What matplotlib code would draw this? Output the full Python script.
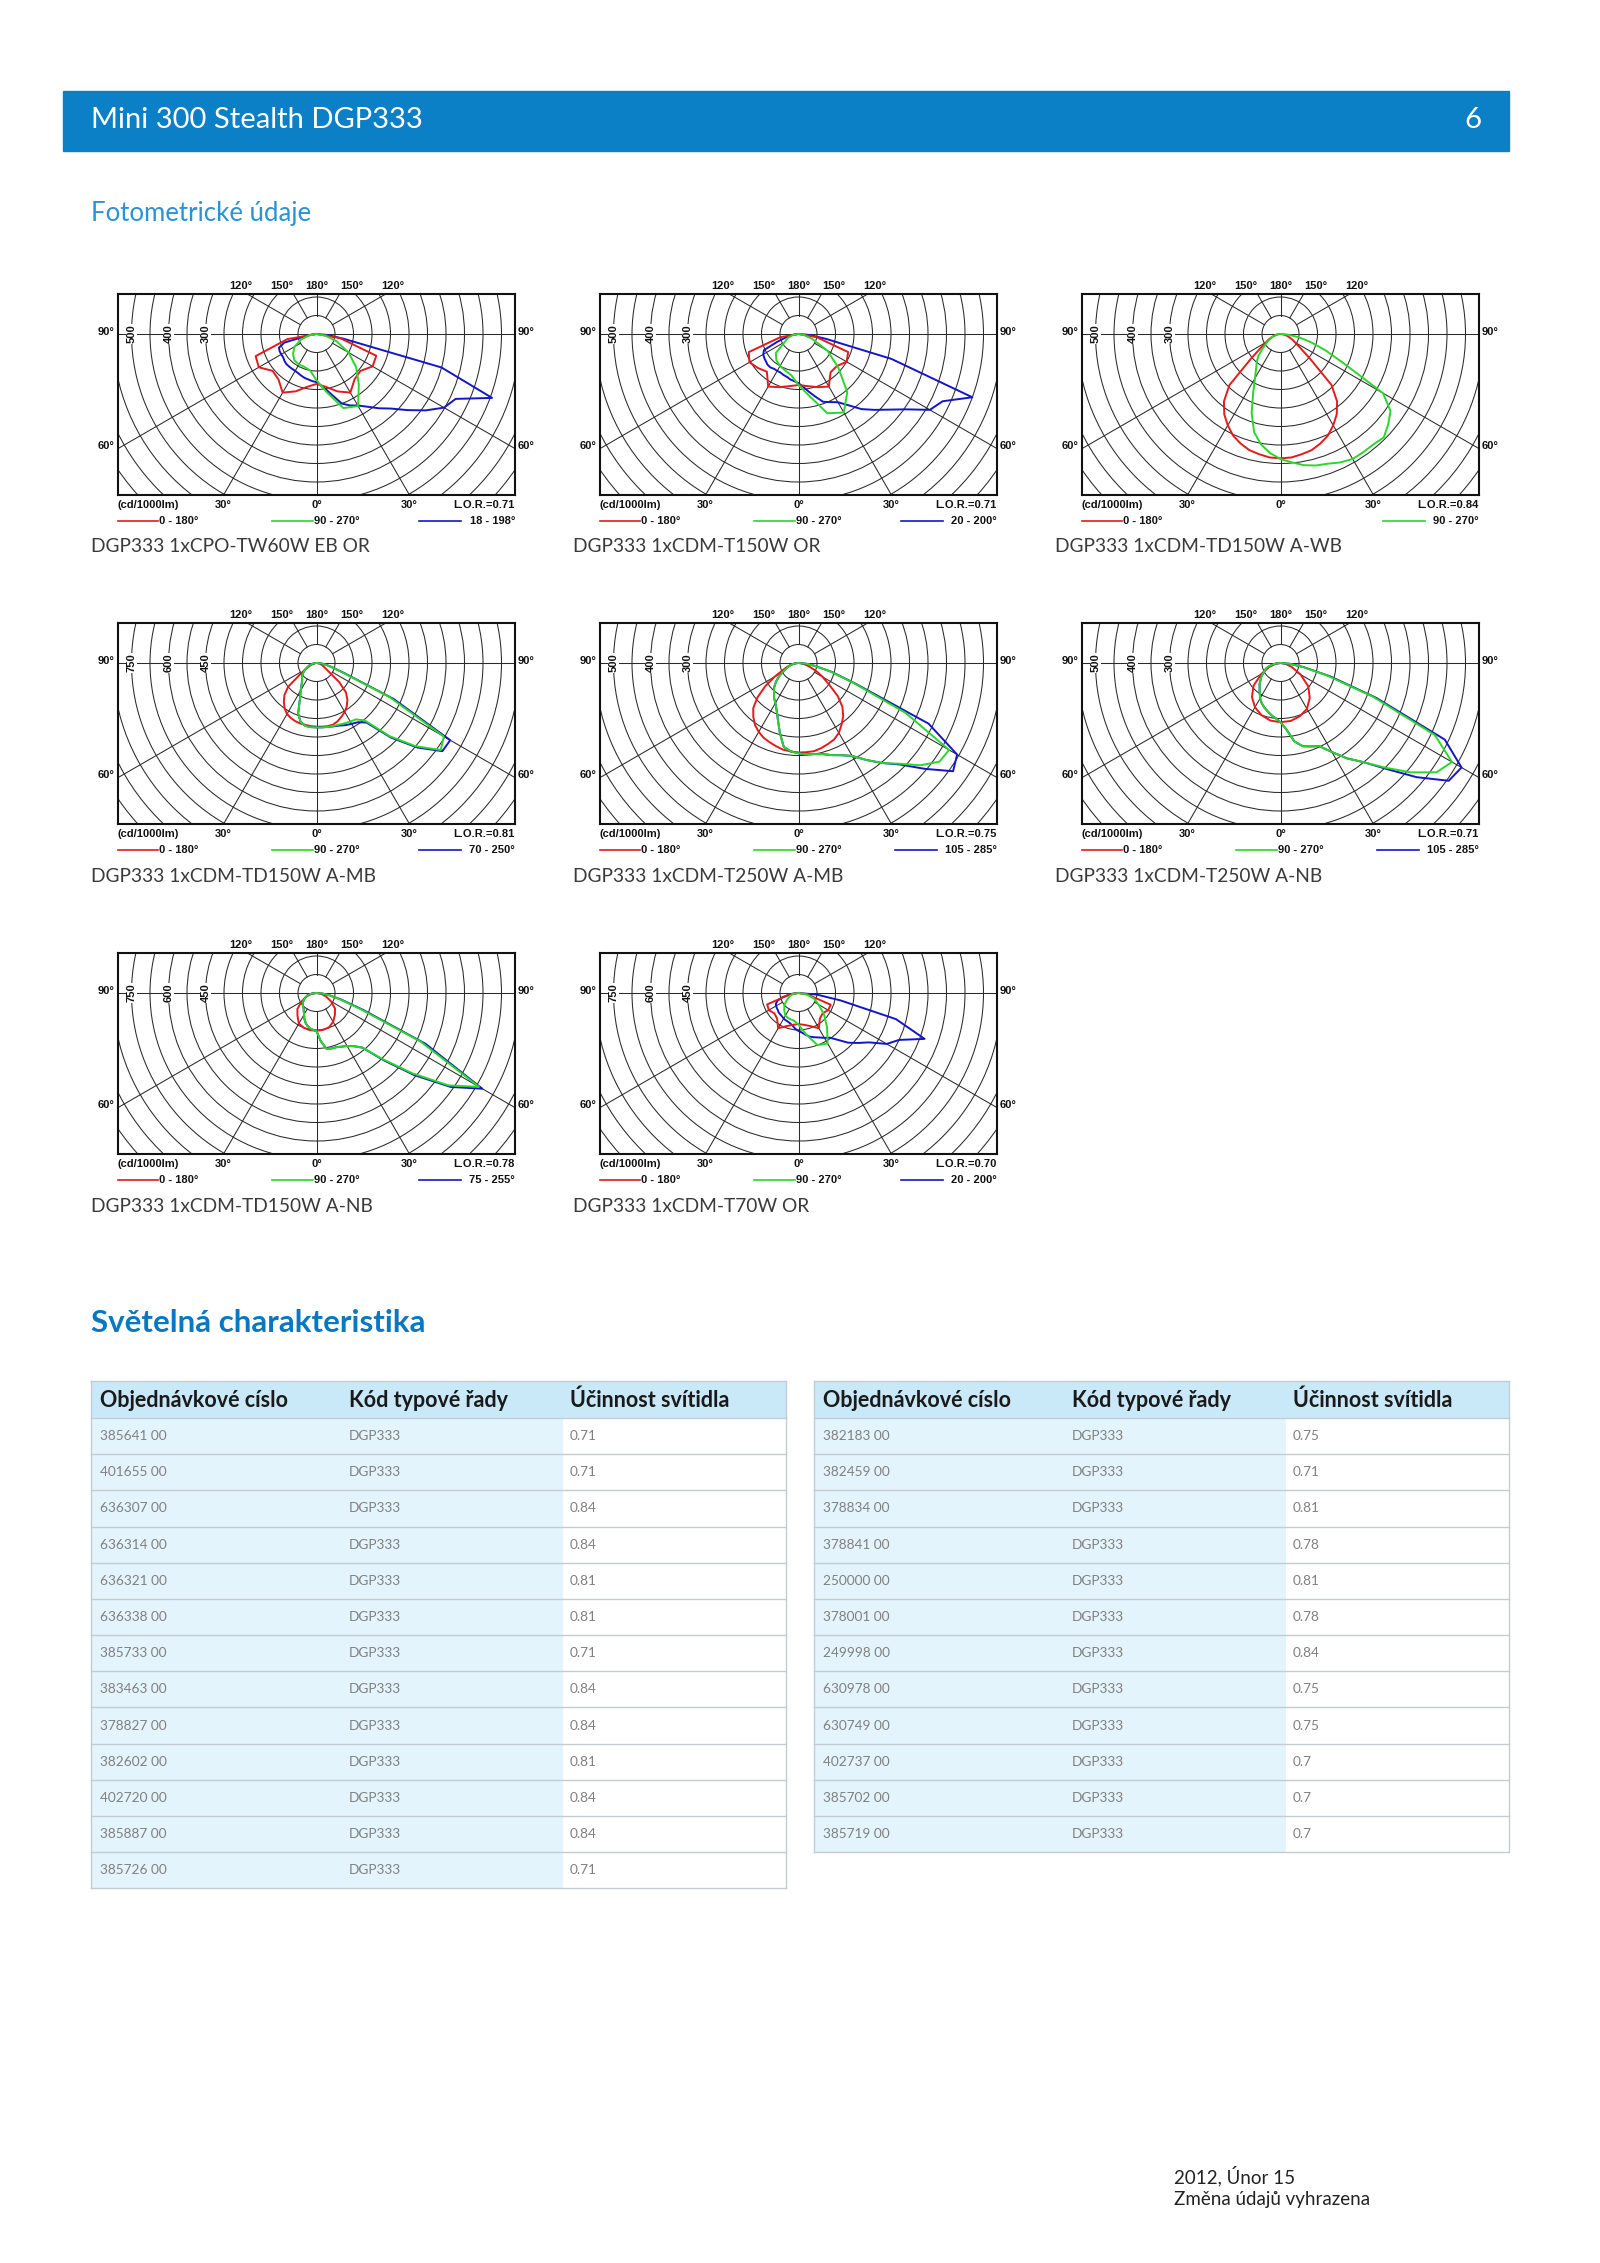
import numpy as np
import matplotlib.pyplot as plt
from matplotlib.patches import Circle, Rectangle

plt.rcParams['font.family'] = ['Lato', 'DejaVu Sans']

# gamma angles (0 = straight down, negative = left half of the C-plane)
A10 = np.arange(-90, 91, 10)
A5 = np.arange(-90, 91, 5)

# intensities in cd/1000lm
c1_red = [0, 80, 175, 180, 155, 160, 183, 165, 145, 135, 145, 165, 183, 160, 155, 175, 172, 65, 0]
c1_green = [0, 20, 45, 68, 83, 93, 95, 95, 100, 125, 160, 213, 225, 178, 140, 100, 58, 25, 0]
c1_blue = [0, 10, 25, 90, 108, 110, 110, 110, 113, 115, 115, 115, 115, 117, 120, 123, 125, 128, 130,
           140, 153, 173, 200, 213, 223, 240, 262, 285, 320, 360, 398, 415, 505, 350, 75, 30, 0]

c2_red = [0, 50, 143, 153, 143, 133, 164, 153, 143, 138, 143, 153, 164, 135, 135, 150, 143, 50, 0]
c2_green = [0, 15, 30, 43, 80, 93, 100, 105, 113, 138, 170, 228, 245, 205, 140, 90, 40, 15, 0]
c2_blue = [0, 8, 20, 35, 60, 103, 110, 113, 115, 118, 118, 115, 115, 115, 118, 120, 125, 128, 133,
           143, 158, 175, 195, 203, 213, 235, 265, 290, 318, 355, 410, 430, 500, 260, 75, 30, 0]

c3_red = [0, 5, 10, 18, 25, 35, 45, 65, 105, 195, 238, 265, 285, 303, 315, 325, 330, 335, 336,
          335, 330, 325, 315, 303, 285, 265, 238, 195, 105, 65, 45, 35, 25, 18, 10, 5, 0]
c3_green = [0, 5, 10, 15, 23, 30, 40, 50, 65, 85, 100, 115, 138, 175, 228, 275, 303, 323, 338,
            348, 360, 368, 373, 383, 390, 390, 390, 395, 380, 363, 320, 190, 130, 85, 50, 20, 0]

c4_red = [0, 4, 8, 15, 23, 34, 53, 83, 150, 184, 206, 225, 239, 246, 251, 254, 255, 257, 258,
          259, 260, 259, 251, 240, 229, 214, 195, 169, 120, 60, 41, 30, 23, 15, 8, 4, 0]
c4_green = [0, 8, 15, 23, 34, 41, 53, 64, 75, 83, 90, 105, 128, 158, 218, 248, 259, 261, 261,
            262, 263, 264, 266, 270, 274, 279, 304, 420, 525, 615, 596, 326, 113, 60, 38, 19, 0]
c4_blue = [0, 8, 15, 23, 34, 41, 53, 64, 75, 83, 90, 105, 128, 158, 218, 248, 259, 261, 261,
           262, 263, 266, 270, 278, 285, 293, 315, 428, 533, 623, 626, 345, 120, 64, 38, 19, 0]

c5_red = [0, 5, 13, 23, 35, 48, 75, 110, 145, 173, 190, 205, 215, 223, 228, 233, 238, 240, 242,
          242, 242, 238, 233, 228, 218, 203, 188, 168, 138, 100, 75, 55, 35, 23, 13, 5, 0]
c5_green = [0, 8, 15, 23, 30, 38, 50, 65, 80, 93, 103, 115, 125, 140, 163, 195, 230, 240, 244,
            248, 250, 255, 265, 275, 290, 320, 353, 385, 430, 465, 470, 320, 160, 90, 45, 20, 0]
c5_blue = [0, 8, 15, 23, 30, 38, 50, 65, 80, 93, 103, 115, 125, 140, 163, 195, 230, 240, 244,
           248, 250, 255, 265, 275, 290, 320, 353, 388, 445, 510, 495, 388, 165, 93, 45, 20, 0]

c6_red = [0, 15, 33, 60, 95, 120, 138, 150, 158, 160, 159, 153, 143, 123, 98, 63, 33, 15, 0]
c6_green = [0, 10, 20, 30, 40, 48, 53, 63, 70, 80, 88, 98, 110, 120, 128, 135, 143, 150, 160,
            180, 215, 233, 240, 248, 278, 315, 350, 400, 460, 515, 535, 460, 265, 130, 60, 25, 0]
c6_blue = [0, 10, 20, 30, 40, 48, 53, 63, 70, 80, 88, 98, 110, 120, 128, 135, 143, 150, 160,
           180, 215, 233, 240, 248, 278, 315, 350, 405, 480, 555, 565, 490, 275, 138, 63, 25, 0]

c7_red = [0, 23, 45, 71, 101, 120, 143, 150, 153, 153, 152, 148, 135, 116, 98, 68, 41, 19, 0]
c7_green = [0, 15, 26, 38, 45, 53, 60, 68, 73, 77, 81, 90, 101, 116, 129, 139, 146, 150, 154,
            195, 229, 233, 234, 240, 248, 263, 289, 379, 506, 653, 761, 465, 188, 98, 53, 23, 0]
c7_blue = [0, 15, 26, 38, 45, 53, 60, 68, 73, 77, 81, 90, 101, 116, 129, 139, 146, 150, 154,
           195, 229, 233, 234, 240, 248, 263, 289, 386, 518, 664, 776, 488, 203, 105, 53, 23, 0]

c8_red = [0, 38, 135, 139, 128, 135, 165, 143, 131, 126, 131, 143, 165, 135, 128, 139, 139, 38, 0]
c8_green = [0, 23, 38, 53, 75, 90, 107, 111, 113, 128, 169, 225, 236, 180, 135, 94, 68, 34, 0]
c8_blue = [0, 19, 38, 68, 90, 101, 105, 107, 109, 113, 114, 116, 120, 122, 124, 128, 135, 146, 154,
           161, 173, 184, 191, 199, 210, 221, 248, 285, 315, 349, 413, 450, 544, 409, 173, 75, 0]

captions = ['DGP333 1xCPO-TW60W EB OR', 'DGP333 1xCDM-T150W OR', 'DGP333 1xCDM-TD150W A-WB',
            'DGP333 1xCDM-TD150W A-MB', 'DGP333 1xCDM-T250W A-MB', 'DGP333 1xCDM-T250W A-NB',
            'DGP333 1xCDM-TD150W A-NB', 'DGP333 1xCDM-T70W OR']
lor = ['0.71', '0.71', '0.84', '0.81', '0.75', '0.71', '0.78', '0.70']
blue_planes = ['18 - 198°', '20 - 200°', None, '70 - 250°', '105 - 285°', '105 - 285°',
               '75 - 255°', '20 - 200°']
ring_step = [50, 50, 50, 75, 50, 50, 75, 75]

# table data
hdr = ['Objednávkové císlo', 'Kód typové řady', 'Účinnost svítidla']
ids_left = ['385641 00', '401655 00', '636307 00', '636314 00', '636321 00', '636338 00', '385733 00',
            '383463 00', '378827 00', '382602 00', '402720 00', '385887 00', '385726 00']
eff_left = ['0.71', '0.71', '0.84', '0.84', '0.81', '0.81', '0.71', '0.84', '0.84', '0.81', '0.84',
            '0.84', '0.71']
ids_right = ['382183 00', '382459 00', '378834 00', '378841 00', '250000 00', '378001 00', '249998 00',
             '630978 00', '630749 00', '402737 00', '385702 00', '385719 00']
eff_right = ['0.75', '0.71', '0.81', '0.78', '0.81', '0.78', '0.84', '0.75', '0.75', '0.7', '0.7', '0.7']

RED, GREEN, BLUE = '#e41a1c', '#2bd62b', '#1515c8'
GRID = '#2a2a2a'
LBL = dict(family=['Liberation Sans', 'DejaVu Sans'], fontweight='bold', fontsize=8, color='#111111')

fig = plt.figure(figsize=(16, 22.63), dpi=100)
page = fig.add_axes([0, 0, 1, 1])
page.set_xlim(0, 1600)
page.set_ylim(2263, 0)
page.axis('off')

# header
page.add_patch(Rectangle((63, 91), 1446, 60, color='#0b80c7'))
page.text(91, 120, 'Mini 300 Stealth DGP333', color='white', fontsize=21, va='center')
page.text(1481, 120, '6', color='white', fontsize=21, va='center', ha='right')
page.text(91, 214, 'Fotometrické údaje', color='#2a92d6', fontsize=18.5, va='center')

PX = 18.5      # pixels per ring
W, H = 397, 201
TOP = 40       # pixels from box top to diagram centre


def polar_box(L, T, step, curves, ring_lbls, lor_txt, blue_lbl, caption):
    ax = fig.add_axes([L / 1600, 1 - (T + H) / 2263, W / 1600, H / 2263])
    ax.set_xlim(-W / 2 / PX * step, W / 2 / PX * step)
    ax.set_ylim(-(H - TOP) / PX * step, TOP / PX * step)
    ax.set_xticks([])
    ax.set_yticks([])
    for s in ax.spines.values():
        s.set_linewidth(1.5)
        s.set_color('#111111')
    for k in range(1, 16):
        ax.add_patch(Circle((0, 0), k * step, fill=False, lw=0.75, ec=GRID))
    for a in [0, 30, 60, 120, 150, 180, -30, -60, -120, -150]:
        t = np.radians(a)
        ax.plot([step * np.sin(t), 20 * step * np.sin(t)],
                [-step * np.cos(t), -20 * step * np.cos(t)], color=GRID, lw=0.75)
    ax.axhline(0, color=GRID, lw=0.75)
    for k, lab in zip([10, 8, 6], ring_lbls):
        ax.text(-k * step, 0, lab, rotation=90, ha='center', va='center', **LBL,
                bbox=dict(fc='white', ec='none', pad=0.4))
    for ang, val, col in curves:
        t = np.radians(ang)
        v = np.asarray(val, dtype=float)
        ax.plot(v * np.sin(t), -v * np.cos(t), color=col, lw=1.4)

    cx, cy, B = L + W / 2, T + TOP, T + H
    for dx, lab in [(-76, '120°'), (-35, '150°'), (0, '180°'), (35, '150°'), (76, '120°')]:
        page.text(cx + dx, T - 3, lab, ha='center', va='bottom', **LBL)
    page.text(L - 3, cy - 2, '90°', ha='right', va='center', **LBL)
    page.text(L + W + 3, cy - 2, '90°', ha='left', va='center', **LBL)
    page.text(L - 3, cy + 112, '60°', ha='right', va='center', **LBL)
    page.text(L + W + 3, cy + 112, '60°', ha='left', va='center', **LBL)
    page.text(L, B + 10, '(cd/1000lm)', ha='left', va='center', **LBL)
    page.text(cx - 93, B + 10, '30°', ha='center', va='center', **LBL)
    page.text(cx, B + 10, '0°', ha='center', va='center', **LBL)
    page.text(cx + 93, B + 10, '30°', ha='center', va='center', **LBL)
    page.text(L + W, B + 10, 'L.O.R.=' + lor_txt, ha='right', va='center', **LBL)

    ly = B + 26
    page.plot([L, L + 40], [ly, ly], color=RED, lw=1.2)
    page.text(L + 41, ly, '0 - 180°', ha='left', va='center', **LBL)
    if blue_lbl is None:
        right = [('90 - 270°', GREEN)]
    else:
        page.plot([L + 154, L + 195], [ly, ly], color=GREEN, lw=1.2)
        page.text(L + 196, ly, '90 - 270°', ha='left', va='center', **LBL)
        right = [(blue_lbl, BLUE)]
    for lab, col in right:
        x_end = L + W - 5.9 * len(lab) - 1
        page.plot([x_end - 42, x_end], [ly, ly], color=col, lw=1.2)
        page.text(L + W, ly, lab, ha='right', va='center', **LBL)
    page.text(L - 27, B + 52, caption, ha='left', va='center', fontsize=13.8, color='#3a3a3a')


positions = [(118, 294), (600, 294), (1082, 294), (118, 623), (600, 623), (1082, 623),
             (118, 953), (600, 953)]
all_curves = [
    [(A5, c1_blue, BLUE), (A10, c1_red, RED), (A10, c1_green, GREEN)],
    [(A5, c2_blue, BLUE), (A10, c2_red, RED), (A10, c2_green, GREEN)],
    [(A5, c3_red, RED), (A5, c3_green, GREEN)],
    [(A5, c4_red, RED), (A5, c4_blue, BLUE), (A5, c4_green, GREEN)],
    [(A5, c5_red, RED), (A5, c5_blue, BLUE), (A5, c5_green, GREEN)],
    [(A10, c6_red, RED), (A5, c6_blue, BLUE), (A5, c6_green, GREEN)],
    [(A10, c7_red, RED), (A5, c7_blue, BLUE), (A5, c7_green, GREEN)],
    [(A5, c8_blue, BLUE), (A10, c8_red, RED), (A10, c8_green, GREEN)],
]
for i in range(8):
    step = ring_step[i]
    rl = [str(10 * step), str(8 * step), str(6 * step)]
    polar_box(positions[i][0], positions[i][1], step, all_curves[i], rl, lor[i],
              blue_planes[i], captions[i])

# section title
page.text(91, 1323, 'Světelná charakteristika', color='#0a78c0', fontsize=22.5,
          fontweight='bold', va='center')

# tables
ROW = 36.18
HT, HB = 1381, 1418


def draw_table(x0, ids, effs):
    tw = 695
    page.add_patch(Rectangle((x0, HT), tw, HB - HT, color='#c9e8f8', lw=0))
    for j, h in enumerate(hdr):
        page.text(x0 + [9, 258, 479][j], (HT + HB) / 2 + 1, h, fontsize=15.5, fontweight='bold',
                  color='#1a1a1a', va='center')
    for i, (a, e) in enumerate(zip(ids, effs)):
        y = HB + i * ROW
        page.add_patch(Rectangle((x0, y), 472, ROW, color='#e4f4fc', lw=0))
        page.plot([x0, x0 + tw], [y, y], color='#c3ccd2', lw=1)
        page.text(x0 + 9, y + ROW / 2, a, fontsize=9.8, color='#808080', va='center')
        page.text(x0 + 258, y + ROW / 2, 'DGP333', fontsize=9.8, color='#808080', va='center')
        page.text(x0 + 479, y + ROW / 2, e, fontsize=9.8, color='#808080', va='center')
    yb = HB + len(ids) * ROW
    page.plot([x0, x0 + tw], [yb, yb], color='#c3ccd2', lw=1)
    page.plot([x0, x0 + tw], [HT, HT], color='#c3ccd2', lw=1)
    page.plot([x0, x0], [HT, yb], color='#c3ccd2', lw=1)
    page.plot([x0 + tw, x0 + tw], [HT, yb], color='#c3ccd2', lw=1)


draw_table(91, ids_left, eff_left)
draw_table(814, ids_right, eff_right)

# footer
page.text(1174, 2176, '2012, Únor 15', fontsize=13.5, color='#222222', va='center')
page.text(1174, 2200, 'Změna údajů vyhrazena', fontsize=13.5, color='#222222', va='center')

fig.savefig('out.png', dpi=100)
